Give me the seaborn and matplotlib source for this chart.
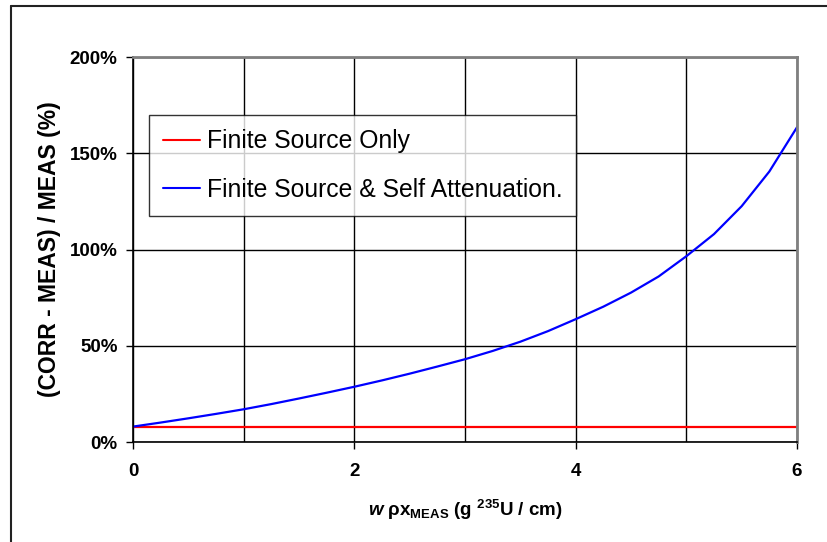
import numpy as np
import pandas as pd
import matplotlib
matplotlib.use("Agg")
import matplotlib.pyplot as plt
from matplotlib.lines import Line2D
import seaborn as sns

# values
x_vals = [0, 0.25, 0.5, 0.75, 1, 1.25, 1.5, 1.75, 2, 2.25, 2.5, 2.75, 3,
          3.25, 3.5, 3.75, 4, 4.25, 4.5, 4.75, 5, 5.25, 5.5, 5.75, 6]
finite_only = [8.0] * len(x_vals)
finite_self_att = [8.0, 10.1, 12.3, 14.6, 17.0, 19.7, 22.6, 25.6, 28.7, 32.0,
                   35.5, 39.2, 43.0, 47.3, 52.1, 57.6, 63.8, 70.3, 77.6, 86.0,
                   96.5, 108.0, 122.5, 140.5, 163.5]
series_names = ["Finite Source Only", "Finite Source & Self Attenuation."]
y_ticks = [0, 50, 100, 150, 200]
x_ticks = [0, 2, 4, 6]

df = pd.DataFrame({
    "x": x_vals * 2,
    "y": finite_only + finite_self_att,
    "series": [series_names[0]] * len(x_vals) + [series_names[1]] * len(x_vals),
})

sns.set_style("white")
plt.rcParams["font.family"] = ["Liberation Sans", "DejaVu Sans"]
plt.rcParams["text.color"] = "black"
plt.rcParams["axes.labelcolor"] = "black"
plt.rcParams["xtick.color"] = "black"
plt.rcParams["ytick.color"] = "black"
plt.rcParams["mathtext.fontset"] = "custom"
plt.rcParams["mathtext.rm"] = "Liberation Sans:bold"
plt.rcParams["mathtext.it"] = "Liberation Sans:italic:bold"
plt.rcParams["mathtext.bf"] = "Liberation Sans:bold"

fig = plt.figure(figsize=(8.27, 5.42), dpi=100)
ax = fig.add_axes([0.1608, 0.1845, 0.8029, 0.7103])

sns.lineplot(data=df, x="x", y="y", hue="series", palette=["#ff0000", "#0000ff"],
             linewidth=1.6, ax=ax, legend=True)

ax.set_xlim(0, 6)
ax.set_ylim(0, 200)
ax.set_xticks(x_ticks)
ax.set_xticks([1, 3, 5], minor=True)
ax.set_yticks(y_ticks)
ax.set_yticklabels([f"{v}%" for v in y_ticks])
ax.grid(True, which="both", color="black", linewidth=1.0)
ax.tick_params(axis="both", which="major", direction="out", length=5, width=1,
               color="black", labelcolor="black", labelsize=13.5, left=True, bottom=True)
ax.tick_params(axis="y", which="major", pad=6)
ax.tick_params(axis="x", which="major", pad=10)
ax.tick_params(axis="x", which="minor", length=0)
for lab in ax.get_xticklabels() + ax.get_yticklabels():
    lab.set_fontweight("bold")

for side in ["left", "bottom"]:
    ax.spines[side].set_color("black")
    ax.spines[side].set_linewidth(1.2)
for side in ["top", "right"]:
    ax.spines[side].set_color("#808080")
    ax.spines[side].set_linewidth(2)

ax.set_ylabel("(CORR - MEAS) / MEAS (%)", fontsize=16.5, fontweight="bold",
              labelpad=6, color="black")
ax.set_xlabel(r"$\mathit{w}$ ρx$_{\mathrm{MEAS}}$ (g $^{\mathrm{235}}$U / cm)",
              fontsize=13.5, fontweight="bold", labelpad=13, color="black")

leg = ax.legend(loc="upper left", bbox_to_anchor=(0.024, 0.849), borderaxespad=0,
                fontsize=17.8, frameon=True, fancybox=False, handlelength=1.5,
                handletextpad=0.25, labelspacing=0.98, borderpad=0.58, title=None)
leg.get_frame().set_edgecolor("black")
leg.get_frame().set_linewidth(1.0)
for t in leg.get_texts():
    t.set_color("black")
for h in leg.get_lines():
    h.set_linewidth(1.5)

# outer frame (left and top edges visible in the reference)
fig.add_artist(Line2D([11 / 827, 11 / 827], [0, 1 - 6 / 542], color="#222222", lw=1.5))
fig.add_artist(Line2D([11 / 827, 1], [1 - 6 / 542, 1 - 6 / 542], color="#222222", lw=1.5))

fig.savefig("out.png", dpi=100, facecolor="white")
